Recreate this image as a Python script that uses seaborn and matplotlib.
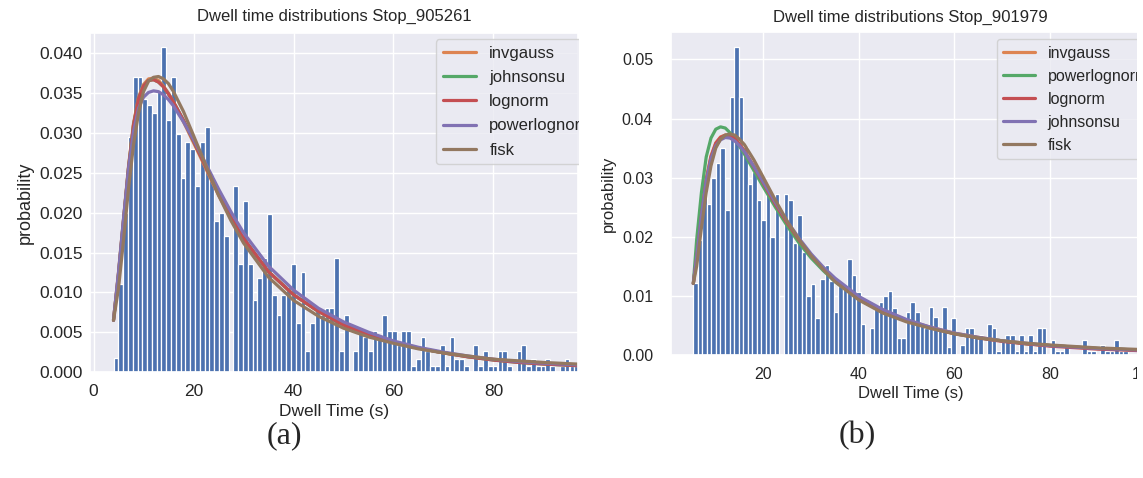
import numpy as np
import pandas as pd
import matplotlib
matplotlib.use("Agg")
import matplotlib.pyplot as plt
import seaborn as sns
from matplotlib.patches import Rectangle

# ---------------- data ----------------
a_title = "Dwell time distributions Stop_905261"
b_title = "Dwell time distributions Stop_901979"

a_bin_start = 4.0
a_bin_width = 0.96
a_heights = [
    0.0017, 0.0110, 0.0200, 0.0295, 0.0370, 0.0370, 0.0343, 0.0335, 0.0325, 0.0352,
    0.0408, 0.0317, 0.0370, 0.0299, 0.0244, 0.0289, 0.0280, 0.0234, 0.0289, 0.0307,
    0.0245, 0.0189, 0.0200, 0.0171, 0.0000, 0.0233, 0.0136, 0.0215, 0.0136, 0.0090,
    0.0118, 0.0143, 0.0198, 0.0097, 0.0072, 0.0097, 0.0107, 0.0136, 0.0062, 0.0126,
    0.0026, 0.0062, 0.0080, 0.0072, 0.0080, 0.0080, 0.0143, 0.0026, 0.0072, 0.0000,
    0.0026, 0.0052, 0.0044, 0.0026, 0.0052, 0.0044, 0.0072, 0.0052, 0.0052, 0.0034,
    0.0052, 0.0052, 0.0007, 0.0016, 0.0044, 0.0026, 0.0007, 0.0007, 0.0034, 0.0007,
    0.0044, 0.0016, 0.0016, 0.0007, 0.0000, 0.0034, 0.0007, 0.0026, 0.0007, 0.0007,
    0.0026, 0.0026, 0.0007, 0.0000, 0.0026, 0.0034, 0.0007, 0.0016, 0.0007, 0.0007,
    0.0016, 0.0007, 0.0000, 0.0007, 0.0016, 0.0007, 0.0007, 0.0007, 0.0000, 0.0007,
]

b_bin_start = 5.3
b_bin_width = 0.948
b_heights = [
    0.0121, 0.0195, 0.0290, 0.0255, 0.0300, 0.0325, 0.0350, 0.0245, 0.0437, 0.0521,
    0.0437, 0.0352, 0.0290, 0.0310, 0.0263, 0.0228, 0.0272, 0.0200, 0.0272, 0.0000,
    0.0272, 0.0262, 0.0190, 0.0237, 0.0175, 0.0100, 0.0120, 0.0063, 0.0128, 0.0152,
    0.0125, 0.0072, 0.0117, 0.0117, 0.0162, 0.0135, 0.0107, 0.0052, 0.0000, 0.0045,
    0.0085, 0.0090, 0.0099, 0.0108, 0.0080, 0.0028, 0.0028, 0.0072, 0.0090, 0.0072,
    0.0052, 0.0045, 0.0081, 0.0064, 0.0045, 0.0081, 0.0013, 0.0062, 0.0000, 0.0017,
    0.0045, 0.0045, 0.0034, 0.0034, 0.0000, 0.0052, 0.0045, 0.0007, 0.0026, 0.0034,
    0.0034, 0.0007, 0.0034, 0.0007, 0.0034, 0.0007, 0.0045, 0.0045, 0.0000, 0.0026,
    0.0007, 0.0007, 0.0017, 0.0000, 0.0000, 0.0000, 0.0026, 0.0007, 0.0007, 0.0000,
    0.0017, 0.0007, 0.0007, 0.0026, 0.0007, 0.0007, 0.0000, 0.0000, 0.0000, 0.0007,
]

# fitted curves (panel a)
a_curve_x = [4.0, 5, 6, 7, 8, 9, 10, 11, 12, 13, 14, 15, 16, 18, 20, 22.5, 25, 27.5,
             30, 35, 40, 45, 50, 55, 60, 65, 70, 75, 80, 85, 90, 100]
a_invgauss = [0.0065, 0.0125, 0.0192, 0.0258, 0.0312, 0.0345, 0.0361, 0.0368, 0.0369, 0.0366,
              0.0359, 0.0350, 0.0339, 0.0314, 0.0288, 0.0255, 0.0222, 0.0193, 0.0167, 0.0126,
              0.0097, 0.0076, 0.0060, 0.0048, 0.0038, 0.0030, 0.0024, 0.0019, 0.0016, 0.0013,
              0.0011, 0.0008]
a_johnsonsu = [0.0065, 0.0123, 0.0190, 0.0256, 0.0310, 0.0343, 0.0359, 0.0366, 0.0367, 0.0364,
               0.0358, 0.0349, 0.0339, 0.0316, 0.0290, 0.0257, 0.0224, 0.0194, 0.0168, 0.0126,
               0.0097, 0.0076, 0.0059, 0.0047, 0.0037, 0.0030, 0.0024, 0.0019, 0.0015, 0.0012,
               0.0010, 0.0007]
a_lognorm = [0.0065, 0.0123, 0.0190, 0.0256, 0.0310, 0.0343, 0.0359, 0.0366, 0.0367, 0.0364,
             0.0358, 0.0349, 0.0339, 0.0316, 0.0290, 0.0257, 0.0224, 0.0194, 0.0168, 0.0126,
             0.0097, 0.0076, 0.0059, 0.0047, 0.0037, 0.0030, 0.0024, 0.0019, 0.0015, 0.0012,
             0.0010, 0.0007]
a_powerlognorm = [0.0065, 0.0125, 0.0192, 0.0255, 0.0302, 0.0331, 0.0345, 0.0351, 0.0353, 0.0352,
                  0.0348, 0.0342, 0.0334, 0.0314, 0.0292, 0.0261, 0.0230, 0.0201, 0.0175, 0.0133,
                  0.0103, 0.0080, 0.0063, 0.0050, 0.0039, 0.0031, 0.0025, 0.0020, 0.0016, 0.0013,
                  0.0011, 0.0008]
a_fisk = [0.0065, 0.0105, 0.0165, 0.0230, 0.0285, 0.0325, 0.0352, 0.0365, 0.0370, 0.0371,
          0.0368, 0.0362, 0.0352, 0.0327, 0.0297, 0.0259, 0.0222, 0.0190, 0.0162, 0.0119,
          0.0090, 0.0070, 0.0055, 0.0044, 0.0036, 0.0029, 0.0024, 0.0020, 0.0016, 0.0014,
          0.0012, 0.0009]

# fitted curves (panel b)
b_curve_x = [5.3, 6, 7, 8, 9, 10, 11, 12, 13, 14, 15, 16, 18, 20, 22.5, 25, 27.5, 30, 32.5,
             35, 40, 45, 50, 55, 60, 65, 70, 75, 80, 90, 100]
b_invgauss = [0.0121, 0.0168, 0.0240, 0.0298, 0.0337, 0.0359, 0.0369, 0.0372, 0.0371, 0.0366,
              0.0357, 0.0346, 0.0319, 0.0290, 0.0255, 0.0222, 0.0193, 0.0168, 0.0146, 0.0127,
              0.0097, 0.0075, 0.0059, 0.0047, 0.0037, 0.0030, 0.0024, 0.0019, 0.0016, 0.0011,
              0.0008]
b_powerlognorm = [0.0121, 0.0195, 0.0275, 0.0335, 0.0367, 0.0382, 0.0386, 0.0384, 0.0376, 0.0365,
                  0.0353, 0.0340, 0.0312, 0.0284, 0.0250, 0.0218, 0.0189, 0.0164, 0.0143, 0.0124,
                  0.0094, 0.0073, 0.0058, 0.0046, 0.0036, 0.0029, 0.0024, 0.0019, 0.0016, 0.0011,
                  0.0008]
b_lognorm = [0.0121, 0.0165, 0.0235, 0.0295, 0.0335, 0.0358, 0.0368, 0.0372, 0.0371, 0.0366,
             0.0356, 0.0345, 0.0318, 0.0290, 0.0255, 0.0223, 0.0194, 0.0168, 0.0146, 0.0127,
             0.0097, 0.0075, 0.0058, 0.0046, 0.0036, 0.0029, 0.0023, 0.0019, 0.0015, 0.0010,
             0.0007]
b_johnsonsu = [0.0121, 0.0166, 0.0236, 0.0294, 0.0332, 0.0354, 0.0364, 0.0368, 0.0367, 0.0362,
               0.0354, 0.0344, 0.0319, 0.0292, 0.0258, 0.0226, 0.0197, 0.0171, 0.0149, 0.0130,
               0.0099, 0.0077, 0.0060, 0.0047, 0.0037, 0.0030, 0.0024, 0.0020, 0.0016, 0.0011,
               0.0008]
b_fisk = [0.0121, 0.0150, 0.0215, 0.0275, 0.0320, 0.0350, 0.0365, 0.0372, 0.0374, 0.0372,
          0.0365, 0.0356, 0.0330, 0.0300, 0.0262, 0.0226, 0.0195, 0.0168, 0.0145, 0.0124,
          0.0093, 0.0071, 0.0056, 0.0045, 0.0036, 0.0029, 0.0024, 0.0020, 0.0017, 0.0012,
          0.0009]

a_series = [("invgauss", a_invgauss), ("johnsonsu", a_johnsonsu), ("lognorm", a_lognorm),
            ("powerlognorm", a_powerlognorm), ("fisk", a_fisk)]
b_series = [("invgauss", b_invgauss), ("powerlognorm", b_powerlognorm), ("lognorm", b_lognorm),
            ("johnsonsu", b_johnsonsu), ("fisk", b_fisk)]
a_yticks = [0.0, 0.005, 0.010, 0.015, 0.020, 0.025, 0.030, 0.035, 0.040]
b_yticks = [0.0, 0.01, 0.02, 0.03, 0.04, 0.05]
xticks = [0, 20, 40, 60, 80, 100]

# ---------------- style ----------------
sns.set_theme(style="darkgrid")
plt.rcParams["font.family"] = ["Liberation Sans", "DejaVu Sans"]
pal = sns.color_palette("deep")

W, H = 1143, 478
fig = plt.figure(figsize=(W / 100, H / 100), dpi=100)

def px_axes(l, r, t, b):
    return fig.add_axes([l / W, 1 - b / H, (r - l) / W, (b - t) / H])

ax_a = px_axes(89.5, 578.5, 32.7, 372.0)
ax_b = px_axes(670.7, 1150.0, 31.7, 355.0)
ax_a.set_zorder(0)
ax_b.set_zorder(2)


def draw(ax, start, width, heights, cx, series):
    heights = [float(h) for h in heights]
    n = len(heights)
    centers = [start + width * (k + 0.5) for k in range(n)]
    df = pd.DataFrame({"t": centers, "p": heights})
    sns.histplot(data=df, x="t", weights="p", bins=n, binrange=(start, start + width * n),
                 stat="count", ax=ax, color=pal[0], alpha=1.0, edgecolor="white",
                 linewidth=0.9)
    for k, (name, ys) in enumerate(series):
        sns.lineplot(x=cx, y=ys, ax=ax, color=pal[k + 1], label=name, linewidth=2.3)


draw(ax_a, a_bin_start, a_bin_width, a_heights, a_curve_x, a_series)
draw(ax_b, b_bin_start, b_bin_width, b_heights, b_curve_x, b_series)

# axes a
ax_a.set_xticks(xticks)
ax_a.set_yticks(a_yticks)
ax_a.set_xlim(-0.8, 97.0)
ax_a.set_ylim(0, 0.0426)
ax_a.yaxis.set_major_formatter(matplotlib.ticker.FormatStrFormatter("%.3f"))
ax_a.tick_params(axis="y", labelsize=12.5, length=0, pad=5)
ax_a.tick_params(axis="x", labelsize=12.5, length=0, pad=9)
ax_a.set_title(a_title, fontsize=12, pad=8.5)
ax_a.set_xlabel("Dwell Time (s)", fontsize=12.5, labelpad=3)
ax_a.set_ylabel("probability", fontsize=13)
ax_a.legend(loc="upper left", bbox_to_anchor=((436 - 89.5) / 489, (372 - 39.3) / 339.3),
            borderaxespad=0, fontsize=12, labelspacing=0.55)

# axes b
ax_b.set_xticks(xticks)
ax_b.set_yticks(b_yticks)
ax_b.set_xlim(0.56, 101.0)
ax_b.set_ylim(0, 0.0547)
ax_b.yaxis.set_major_formatter(matplotlib.ticker.FormatStrFormatter("%.2f"))
ax_b.tick_params(axis="y", labelsize=11.5, length=0, pad=12.7)
ax_b.tick_params(axis="x", labelsize=11.5, length=0, pad=8.4)
ax_b.set_title(b_title, fontsize=12, pad=7)
ax_b.set_xlabel("Dwell Time (s)", fontsize=12, labelpad=3)
ax_b.set_ylabel("probability", fontsize=12)
ax_b.legend(loc="upper left", bbox_to_anchor=((996.7 - 670.7) / 479.3, (355 - 39.3) / 323.3),
            borderaxespad=0, fontsize=11.5, labelspacing=0.5)

# crop edges like the reference screenshots
fig.add_artist(Rectangle((578.5 / W, 0), (669 - 578.5) / W, 1, transform=fig.transFigure,
                         facecolor="white", edgecolor="none", zorder=1))
fig.add_artist(Rectangle((1137 / W, 0), (W - 1137) / W + 0.01, 1, transform=fig.transFigure,
                         facecolor="white", edgecolor="none", zorder=5))

fig.text(284 / W, 1 - 436 / H, "(a)", fontsize=23, family="Liberation Serif",
         ha="center", va="center")
fig.text(857 / W, 1 - 436 / H, "(b)", fontsize=23, family="Liberation Serif",
         ha="center", va="center")

fig.savefig("out.png", dpi=100, facecolor="white")
